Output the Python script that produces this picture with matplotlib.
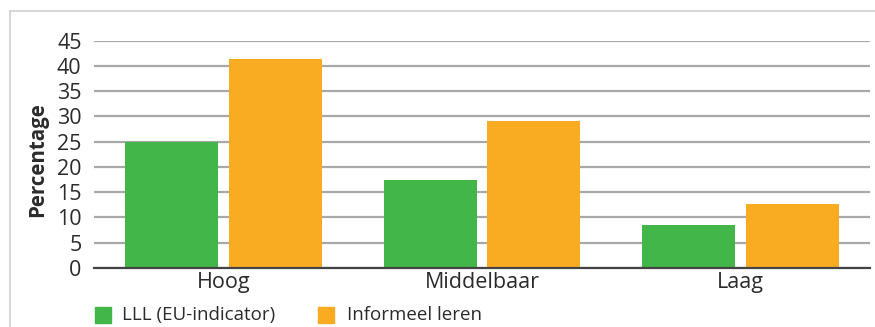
import matplotlib
matplotlib.use("Agg")
import matplotlib.pyplot as plt
import numpy as np
from matplotlib.patches import Rectangle
from matplotlib.lines import Line2D

categories = ["Hoog", "Middelbaar", "Laag"]
lll_values = [25.0, 17.5, 8.6]
informeel_values = [41.4, 29.2, 12.6]
series_names = ["LLL (EU-indicator)", "Informeel leren"]
yticks = [0, 5, 10, 15, 20, 25, 30, 35, 40, 45]

GREEN = "#43b649"
ORANGE = "#f9ac22"
TEXT = "#2b2b2b"

plt.rcParams["font.family"] = ["Open Sans", "DejaVu Sans"]

W, H = 875, 327
fig = plt.figure(figsize=(W / 100, H / 100), dpi=100)

# outer frame (top and left edges visible)
fig.add_artist(Line2D([10 / W, 10 / W], [0, 1 - 11 / H], transform=fig.transFigure,
                      color="#d0d0d0", lw=1.2))
fig.add_artist(Line2D([10 / W, 1], [1 - 11 / H, 1 - 11 / H], transform=fig.transFigure,
                      color="#d0d0d0", lw=1.2))

left, right = 94 / W, 870 / W
bottom, top = 1 - 268 / H, 1 - 40.7 / H
ax = fig.add_axes([left, bottom, right - left, top - bottom])

x = np.arange(len(categories))
bw = 0.36
gap = 0.04
ax.bar(x - (bw + gap) / 2, lll_values, width=bw, color=GREEN, zorder=3)
ax.bar(x + (bw + gap) / 2, informeel_values, width=bw, color=ORANGE, zorder=3)

ax.set_xlim(-0.5, 2.5)
ax.set_ylim(0, 45)
ax.set_yticks(yticks)
ax.set_yticklabels([str(v) for v in yticks], fontsize=15.5, color=TEXT)
ax.set_xticks(x)
ax.set_xticklabels(categories, fontsize=15.5, color=TEXT)
ax.tick_params(axis="both", length=0)
ax.tick_params(axis="y", pad=9)
ax.tick_params(axis="x", pad=3)

ax.yaxis.grid(True, color="#a8a8a8", lw=1.6, zorder=0)
ax.set_axisbelow(True)
for s in ["top", "right", "left"]:
    ax.spines[s].set_visible(False)
ax.spines["bottom"].set_color("#444444")
ax.spines["bottom"].set_linewidth(1.6)
ax.spines["bottom"].set_zorder(4)

fig.text(38 / W, 1 - 160 / H, "Percentage", rotation=90, fontsize=14.8,
         fontweight="bold", color=TEXT, ha="center", va="center")

# legend
for name, col, x0, tx in zip(series_names, [GREEN, ORANGE], [95, 318], [122, 347]):
    fig.add_artist(Rectangle((x0 / W, 1 - 323 / H), 16 / W, 16 / H,
                             transform=fig.transFigure, color=col))
    fig.text(tx / W, 1 - 315 / H, name, fontsize=13.5, color=TEXT,
             ha="left", va="center")

fig.savefig("out.png", dpi=100)
